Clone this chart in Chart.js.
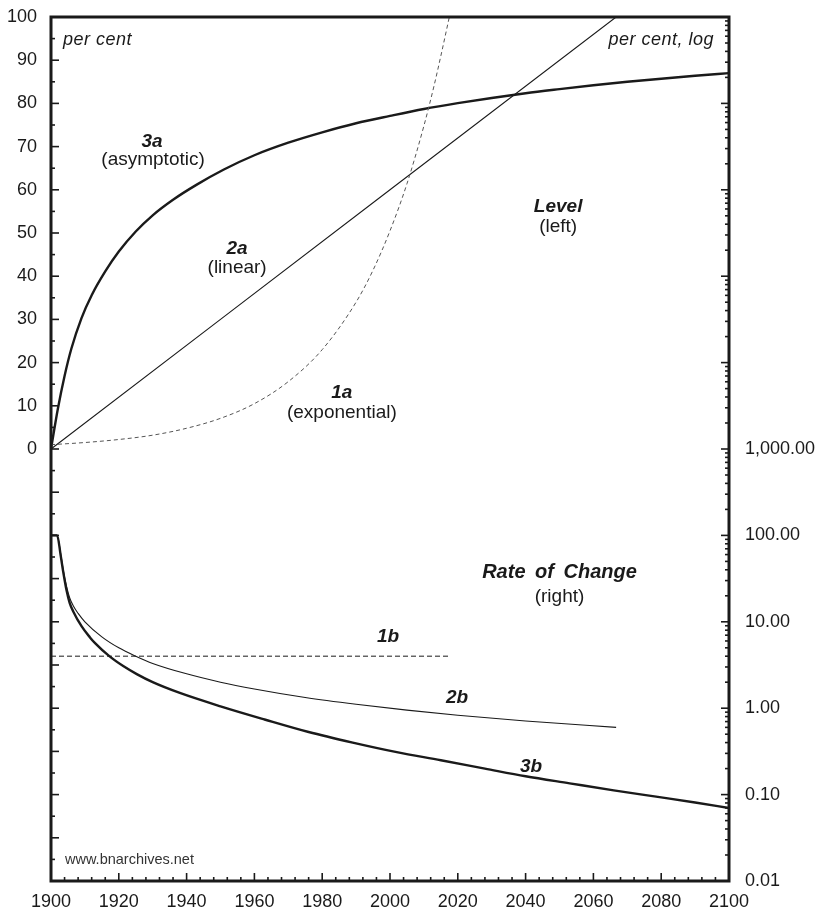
<!DOCTYPE html>
<html>
<head>
<meta charset="utf-8">
<title>Level and rate of change</title>
<script src="https://cdn.jsdelivr.net/npm/chart.js@4.4.0/dist/chart.umd.min.js"></script>
<style>
  html, body { margin: 0; padding: 0; background: #fff; }
  #wrap { width: 820px; height: 916px; }
</style>
</head>
<body>
<div id="wrap"><canvas id="growth"></canvas></div>
<script>
// levels, per cent (left axis)
const years1a = [1900, 1910, 1920, 1930, 1940, 1950, 1960, 1970, 1980, 1990, 1995, 2000, 2005, 2010, 2013, 2015, 2017.5];
const level1a = [1.0, 1.5, 2.2, 3.2, 4.8, 7.1, 10.5, 15.6, 23, 34, 41.4, 50.5, 61.4, 74.8, 84.1, 91, 100];

const years2a = [1900, 1950, 2000, 2066.7];
const level2a = [0, 30, 60, 100];

const years3a = [1900, 1902, 1904, 1906, 1909, 1912, 1916, 1920, 1925, 1930, 1936, 1943, 1951,
  1960, 1970, 1980, 1990, 2000, 2010, 2020, 2030, 2040, 2050, 2060, 2070, 2080, 2090, 2100];
const level3a = [0, 9.2, 16.9, 23.2, 30.3, 35.6, 41.1, 45.7, 50.35, 54.1, 57.7, 61.2, 64.7,
  68.0, 70.9, 73.3, 75.4, 77.1, 78.7, 80.05, 81.25, 82.35, 83.3, 84.2, 85, 85.7, 86.4, 87];

// rates of change, per cent, log (right axis)
const years1b = [1900, 2017.5];
const rate1b = [4, 4];

const years2b = [1900, 1901.8, 1902.9, 1903.6, 1904.6, 1905.5, 1906.6, 1908, 1910, 1915, 1920, 1925, 1930, 1940, 1950, 1960, 1975, 1990, 2005, 2020, 2040, 2066.7];
const rate2b = [100, 100, 60, 40, 25.5, 19, 15.2, 12.5, 10, 6.7, 5, 4, 3.3, 2.5, 2, 1.67, 1.33, 1.11, 0.95, 0.83, 0.71, 0.6];

const years3b = [1900, 1901.8, 1902.9, 1903.6, 1904.6, 1905.5, 1906.6, 1909, 1911.5, 1913, 1917.2, 1921.3, 1925.3, 1930, 1938, 1950, 1963, 1976, 1989, 2002, 2015, 2028, 2040, 2053, 2066, 2079, 2090, 2100];
const rate3b = [100, 100, 57, 38, 23, 16.6, 13.1, 8.9, 6.6, 5.66, 4.0, 3.07, 2.48, 2.0, 1.5, 1.05, 0.74, 0.53, 0.4, 0.31, 0.25, 0.2, 0.163, 0.135, 0.112, 0.094, 0.081, 0.07];

const FONT = "'Liberation Sans', Arial, Helvetica, sans-serif";
const INK = '#1a1a1a';

const toPoints = (xs, ys) => xs.map((x, i) => ({x: x, y: ys[i]}));

const isDecade = v => Math.abs(Math.log10(v) - Math.round(Math.log10(v))) < 1e-9;

// text on the plot: [text, year, level, style]
const notes = [
  ['3a', 1929.8, 71.1, 'bi'],
  ['(asymptotic)', 1930.1, 66.9, 'r'],
  ['2a', 1954.9, 46.3, 'bi'],
  ['(linear)', 1954.9, 41.9, 'r'],
  ['1a', 1985.8, 13.0, 'bi'],
  ['(exponential)', 1985.8, 8.3, 'r'],
  ['Level', 2049.6, 56.0, 'bi'],
  ['(left)', 2049.6, 51.4, 'r'],
  ['Rate of Change', 2050, -28.5, 'bi'],
  ['(right)', 2050, -34.3, 'r'],
  ['1b', 1999.4, -43.5, 'bi'],
  ['2b', 2019.8, -57.6, 'bi'],
  ['3b', 2041.6, -73.6, 'bi'],
];

const frameAndNotes = {
  id: 'frameAndNotes',
  afterDatasetsDraw(chart) {
    const {ctx, chartArea: a, scales} = chart;
    const x = scales.x, yl = scales.yLevel, yr = scales.yRate;
    ctx.save();
    ctx.strokeStyle = INK;
    ctx.lineWidth = 1.6;
    const seg = (x1, y1, x2, y2) => {
      ctx.beginPath(); ctx.moveTo(x1, y1); ctx.lineTo(x2, y2); ctx.stroke();
    };
    // inward tick marks
    x.ticks.forEach(t => {
      const px = x.getPixelForValue(t.value);
      seg(px, a.bottom, px, a.bottom - (t.value % 20 === 0 ? 8 : 4));
    });
    yl.ticks.forEach(t => {
      const py = yl.getPixelForValue(t.value);
      seg(a.left, py, a.left + (t.value % 10 === 0 ? 8 : 4), py);
    });
    yr.ticks.forEach(t => {
      const py = yr.getPixelForValue(t.value);
      seg(a.right, py, a.right - (isDecade(t.value) ? 8 : 4), py);
    });
    // frame
    ctx.lineWidth = 3;
    ctx.strokeRect(a.left, a.top, a.right - a.left, a.bottom - a.top);

    ctx.fillStyle = INK;
    ctx.textBaseline = 'middle';
    ctx.font = 'italic 18px ' + FONT;
    ctx.letterSpacing = '0.5px';
    ctx.textAlign = 'left';
    ctx.fillText('per cent', a.left + 12, a.top + 23);
    ctx.textAlign = 'right';
    ctx.fillText('per cent, log', a.right - 15, a.top + 23);
    ctx.letterSpacing = '0px';

    ctx.textAlign = 'center';
    notes.forEach(([txt, yrv, lv, st]) => {
      if (txt === 'Rate of Change') {
        ctx.font = 'italic bold 20px ' + FONT;
        ctx.wordSpacing = '4px';
      } else {
        ctx.font = (st === 'bi' ? 'italic bold 19px ' : '19px ') + FONT;
        ctx.wordSpacing = '0px';
      }
      ctx.fillText(txt, x.getPixelForValue(yrv), yl.getPixelForValue(lv));
    });
    ctx.wordSpacing = '0px';

    ctx.font = '14.5px ' + FONT;
    ctx.textAlign = 'left';
    ctx.fillStyle = '#333';
    ctx.fillText('www.bnarchives.net', a.left + 14, a.bottom - 21);
    ctx.restore();
  }
};

const tickFont = {family: FONT, size: 18};

// keep the plot box fixed; tick labels may hang over its edges
const fixVertical = w => s => { s.width = w; s.paddingTop = 0; s.paddingBottom = 0; };

new Chart(document.getElementById('growth'), {
  type: 'line',
  data: {
    datasets: [
      {
        label: '1a',
        data: toPoints(years1a, level1a),
        yAxisID: 'yLevel',
        borderColor: '#555',
        borderWidth: 1,
        borderDash: [4, 3],
        cubicInterpolationMode: 'monotone',
      },
      {
        label: '2a',
        data: toPoints(years2a, level2a),
        yAxisID: 'yLevel',
        borderColor: INK,
        borderWidth: 1.1,
      },
      {
        label: '3a',
        data: toPoints(years3a, level3a),
        yAxisID: 'yLevel',
        borderColor: INK,
        borderWidth: 2.4,
        cubicInterpolationMode: 'monotone',
      },
      {
        label: '1b',
        data: toPoints(years1b, rate1b),
        yAxisID: 'yRate',
        borderColor: INK,
        borderWidth: 1,
        borderDash: [5, 3],
      },
      {
        label: '2b',
        data: toPoints(years2b, rate2b),
        yAxisID: 'yRate',
        borderColor: INK,
        borderWidth: 1.1,
        cubicInterpolationMode: 'monotone',
      },
      {
        label: '3b',
        data: toPoints(years3b, rate3b),
        yAxisID: 'yRate',
        borderColor: INK,
        borderWidth: 2.4,
        cubicInterpolationMode: 'monotone',
      },
    ],
  },
  options: {
    responsive: true,
    maintainAspectRatio: false,
    animation: false,
    layout: {padding: {top: 17, left: 0, right: 0, bottom: 0}},
    elements: {point: {radius: 0}},
    plugins: {
      legend: {display: false},
      tooltip: {enabled: false},
    },
    scales: {
      x: {
        type: 'linear',
        min: 1900,
        max: 2100,
        border: {display: false},
        grid: {display: false, drawTicks: false},
        afterFit: s => { s.height = 35; s.paddingLeft = 0; s.paddingRight = 0; },
        ticks: {
          stepSize: 4,
          autoSkip: false,
          maxRotation: 0,
          padding: 10,
          color: INK,
          font: tickFont,
          callback: v => (v % 20 === 0 ? String(v) : ''),
        },
      },
      yLevel: {
        type: 'linear',
        position: 'left',
        min: -100,
        max: 100,
        border: {display: false},
        grid: {display: false, drawTicks: false},
        afterFit: fixVertical(51),
        ticks: {
          stepSize: 5,
          autoSkip: false,
          padding: 14,
          color: INK,
          font: tickFont,
          callback: v => (v >= 0 && v % 10 === 0 ? String(v) : ''),
        },
      },
      yRate: {
        type: 'logarithmic',
        position: 'right',
        min: 0.01,
        max: 1e8,
        border: {display: false},
        grid: {display: false, drawTicks: false},
        afterFit: fixVertical(91),
        afterBuildTicks: s => {
          const list = [];
          for (let e = -2; e <= 8; e++) {
            for (let m = 1; m <= 9; m++) {
              const v = Number((m * Math.pow(10, e)).toPrecision(6));
              if (v <= 1e8) list.push({value: v});
            }
          }
          s.ticks = list;
        },
        ticks: {
          autoSkip: false,
          padding: 16,
          color: INK,
          font: tickFont,
          callback: v => (isDecade(v) && v <= 1000
            ? v.toLocaleString('en-US', {minimumFractionDigits: 2, maximumFractionDigits: 2})
            : ''),
        },
      },
    },
  },
  plugins: [frameAndNotes],
});
</script>
</body>
</html>
